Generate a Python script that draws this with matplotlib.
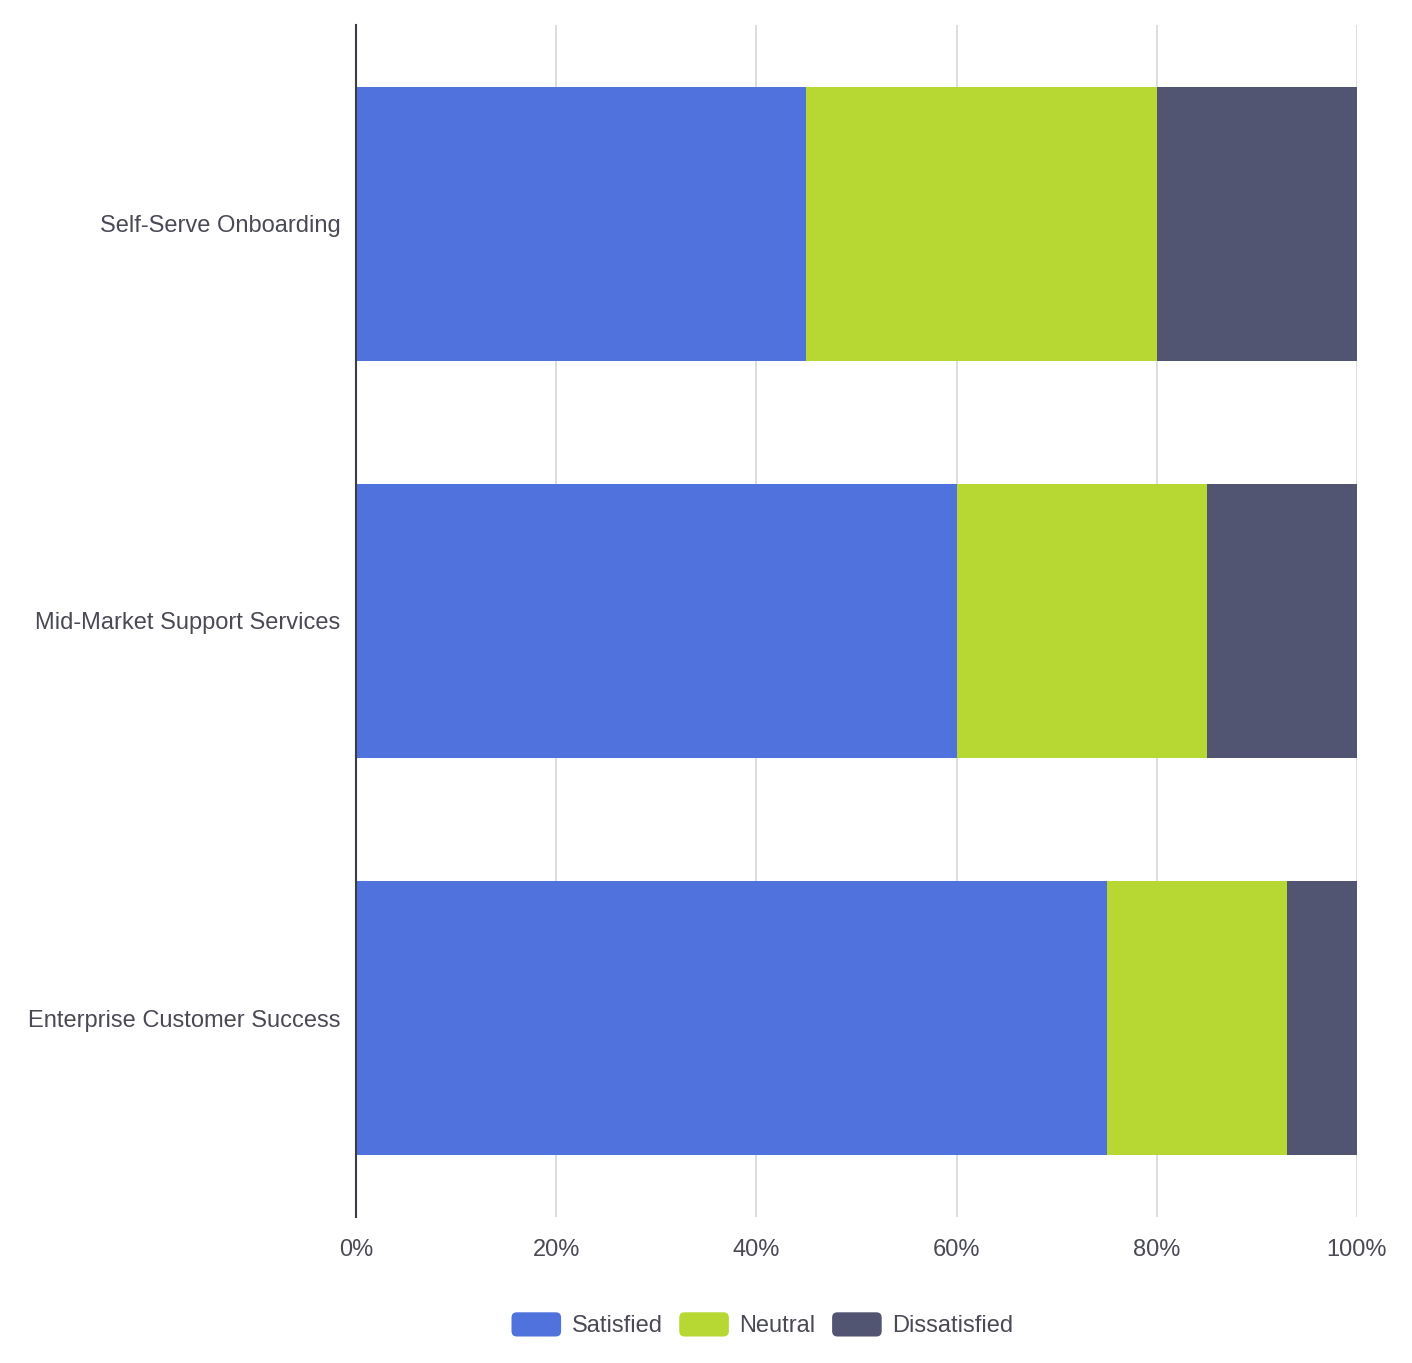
import numpy as np
import matplotlib
matplotlib.use('Agg')
import matplotlib.pyplot as plt
from matplotlib.patches import Patch, FancyBboxPatch
from matplotlib.legend_handler import HandlerPatch

## Data
teams = ['Self-Serve Onboarding', 'Mid-Market Support Services', 'Enterprise Customer Success']
satisfied = [45, 60, 75]
neutral = [35, 25, 18]
dissatisfied = [20, 15, 7]
series_names = ['Satisfied', 'Neutral', 'Dissatisfied']
colors = ['#5072DD', '#B7D733', '#515572']
xticks = [0, 20, 40, 60, 80, 100]

text_color = '#4a4a55'
plt.rcParams['font.family'] = ['Liberation Sans', 'DejaVu Sans']


## Legend keys with rounded corners
class RoundedHandler(HandlerPatch):
    def create_artists(self, legend, orig_handle, xdescent, ydescent, width, height, fontsize, trans):
        p = FancyBboxPatch((-xdescent, -ydescent), width, height,
                           boxstyle='round,pad=0,rounding_size=%f' % (height * 0.22),
                           facecolor=orig_handle.get_facecolor(), edgecolor='none', transform=trans)
        return [p]


fig = plt.figure(figsize=(14.12, 13.63), dpi=100)
ax = fig.add_axes([0.2521, 0.1071, 0.7089, 0.8746])

y = np.arange(len(teams))
left = np.zeros(len(teams))
for vals, name, c in zip([satisfied, neutral, dissatisfied], series_names, colors):
    ax.barh(y, vals, left=left, height=0.69, color=c, label=name, zorder=3)
    left += np.array(vals)

ax.set_ylim(len(teams) - 0.5, -0.5)        # first category on top
ax.set_xlim(0, 100)
ax.set_yticks(y)
ax.set_yticklabels(teams, fontsize=17, color=text_color)
ax.set_xticks(xticks)
ax.set_xticklabels(['%d%%' % t for t in xticks], fontsize=17, color=text_color)
ax.tick_params(axis='both', length=0)
ax.tick_params(axis='y', pad=11)
ax.tick_params(axis='x', pad=16)

ax.grid(axis='x', color='#d5d7dd', linewidth=1.2, zorder=0)
for s in ['top', 'right', 'bottom']:
    ax.spines[s].set_visible(False)
ax.spines['left'].set_color('#3c3c44')
ax.spines['left'].set_linewidth(1.5)
ax.spines['left'].set_zorder(4)

handles = [Patch(facecolor=c, edgecolor='none', label=n) for c, n in zip(colors, series_names)]
fig.legend(handles=handles, loc='center', bbox_to_anchor=(0.54, 0.028), ncol=3,
           frameon=False, fontsize=17, labelcolor=text_color,
           handlelength=2.1, handleheight=1.2, handletextpad=0.45, columnspacing=0.7,
           handler_map={Patch: RoundedHandler()})

fig.savefig('out.png', dpi=100)
